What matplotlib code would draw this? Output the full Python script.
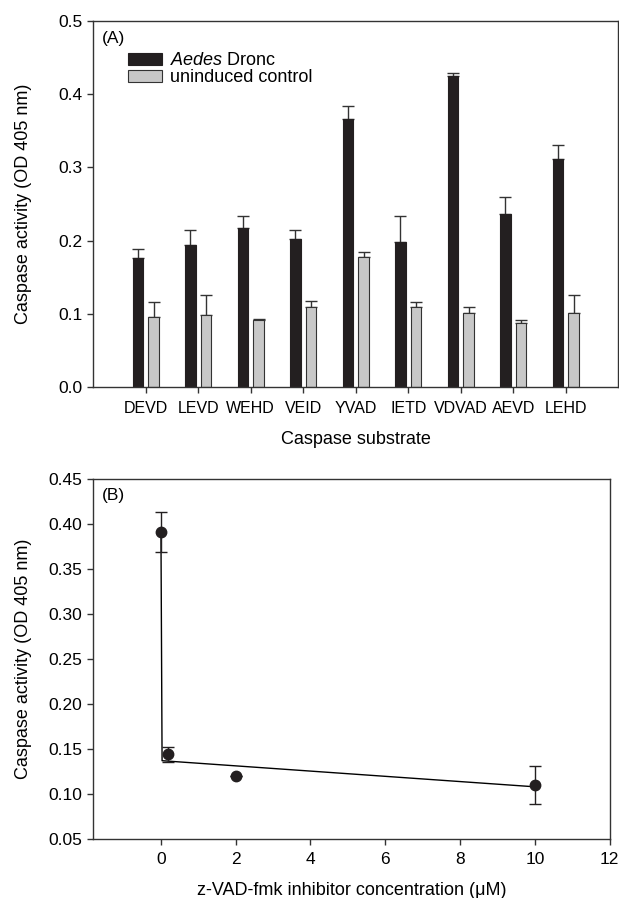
import numpy as np
import matplotlib
matplotlib.use("Agg")
import matplotlib.pyplot as plt

plt.rcParams['font.family'] = ['Liberation Sans', 'DejaVu Sans']
plt.rcParams['mathtext.fontset'] = 'custom'
plt.rcParams['mathtext.it'] = 'Liberation Sans:italic'
plt.rcParams['mathtext.rm'] = 'Liberation Sans'

# panel A data
substrates = ['DEVD', 'LEVD', 'WEHD', 'VEID', 'YVAD', 'IETD', 'VDVAD', 'AEVD', 'LEHD']
dronc = [0.176, 0.194, 0.217, 0.202, 0.366, 0.198, 0.424, 0.237, 0.312]
dronc_err = [0.012, 0.021, 0.016, 0.012, 0.018, 0.035, 0.004, 0.022, 0.019]
control = [0.096, 0.098, 0.092, 0.109, 0.178, 0.110, 0.101, 0.088, 0.101]
control_err = [0.021, 0.028, 0.001, 0.009, 0.007, 0.007, 0.008, 0.004, 0.025]

# panel B data
conc = [0, 0.2, 2, 10]
activity = [0.391, 0.144, 0.120, 0.110]
activity_err = [0.022, 0.008, 0.0, 0.021]
fit_x = [0, 0.03, 10]
fit_y = [0.391, 0.137, 0.108]

LABEL_FS = 13
TICK_FS = 12.5
CAT_FS = 11.5

fig = plt.figure(figsize=(6.19, 8.98), dpi=100)
ax1 = fig.add_axes([0.1507, 0.5687, 0.8482, 0.4083])
ax2 = fig.add_axes([0.1507, 0.0657, 0.8341, 0.4009])

# (A) bar chart
x = np.arange(1, len(substrates) + 1)
w = 0.2
ax1.bar(x - 0.15, dronc, w, color='#231f20', edgecolor='#231f20', linewidth=0.8,
        label=r'$\it{Aedes}$ Dronc', zorder=2)
ax1.bar(x + 0.15, control, w, color='#c8c8c8', edgecolor='#333333', linewidth=0.8,
        label='uninduced control', zorder=2)
ax1.errorbar(x - 0.15, dronc, yerr=[np.zeros(len(dronc)), dronc_err], fmt='none',
             ecolor='#333333', elinewidth=1, capsize=4, capthick=1, zorder=1)
ax1.errorbar(x + 0.15, control, yerr=[np.zeros(len(control)), control_err], fmt='none',
             ecolor='#333333', elinewidth=1, capsize=4, capthick=1, zorder=1)
ax1.set_xlim(0, 10)
ax1.set_ylim(0, 0.5)
ax1.set_xticks(x)
ax1.set_xticklabels(substrates, fontsize=CAT_FS)
ax1.set_yticks(np.arange(0, 0.51, 0.1))
ax1.set_yticklabels(['%.1f' % v for v in np.arange(0, 0.51, 0.1)], fontsize=TICK_FS)
ax1.set_xlabel('Caspase substrate', fontsize=LABEL_FS)
ax1.set_ylabel('Caspase activity (OD 405 nm)', fontsize=LABEL_FS)
ax1.xaxis.set_label_coords(0.5, -0.118)
ax1.yaxis.set_label_coords(-0.117, 0.5)
ax1.text(0.016, 0.951, '(A)', transform=ax1.transAxes, ha='left', va='center',
         fontsize=12.5)
ax1.legend(loc='upper left', bbox_to_anchor=(0.0667, 0.914), frameon=False,
           fontsize=LABEL_FS, handlelength=1.85, handleheight=0.65, handletextpad=0.45,
           labelspacing=0.0, borderaxespad=0, borderpad=0)

# (B) inhibitor curve
ax2.plot(fit_x, fit_y, color='black', linewidth=1, zorder=1)
ax2.errorbar(conc, activity, yerr=activity_err, fmt='o', color='#231f20', markersize=7.5,
             ecolor='#231f20', elinewidth=1, capsize=4.5, capthick=1, zorder=2)
ax2.set_xlim(-1.81, 12)
ax2.set_ylim(0.05, 0.45)
ax2.set_xticks(np.arange(0, 13, 2))
ax2.set_xticklabels([str(v) for v in np.arange(0, 13, 2)], fontsize=TICK_FS)
ax2.set_yticks(np.arange(0.05, 0.451, 0.05))
ax2.set_yticklabels(['%.2f' % v for v in np.arange(0.05, 0.451, 0.05)], fontsize=TICK_FS)
ax2.set_xlabel('z-VAD-fmk inhibitor concentration (\u03bcM)', fontsize=LABEL_FS)
ax2.set_ylabel('Caspase activity (OD 405 nm)', fontsize=LABEL_FS)
ax2.xaxis.set_label_coords(0.5, -0.12)
ax2.yaxis.set_label_coords(-0.119, 0.5)
ax2.text(0.0174, 0.953, '(B)', transform=ax2.transAxes, ha='left', va='center',
         fontsize=12.5)

for ax in (ax1, ax2):
    for s in ax.spines.values():
        s.set_linewidth(1)
        s.set_color('#333333')
    ax.tick_params(direction='out', length=4, width=1, color='#333333',
                   top=False, right=False)
    ax.tick_params(axis='y', pad=4)
    ax.tick_params(axis='x', pad=5.5)

fig.savefig('out.png', dpi=100)
